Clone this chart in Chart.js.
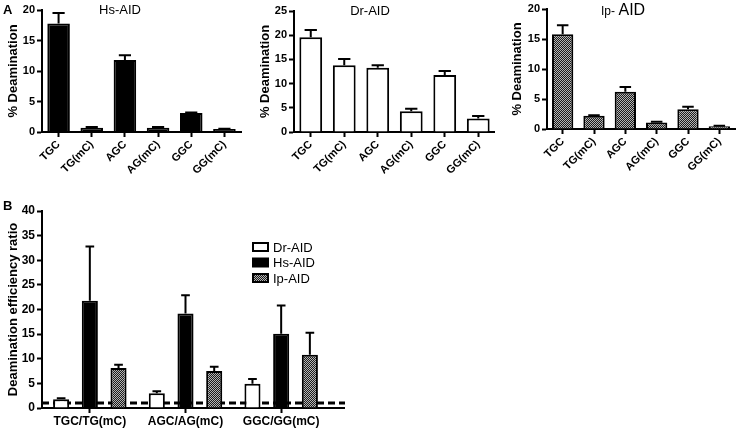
<!DOCTYPE html>
<html>
<head>
<meta charset="utf-8">
<title>AID deamination</title>
<script src="https://cdn.jsdelivr.net/npm/chart.js"></script>
<style>
  body { margin: 0; background: #fff; font-family: "Liberation Sans", Arial, sans-serif; }
  #wrap { position: relative; width: 745px; height: 431px; overflow: hidden; }
  canvas { position: absolute; }
  .lbl { position: absolute; font-weight: bold; font-size: 13px; color: #000; }
  .ttl { position: absolute; font-size: 13px; color: #000; transform: translateX(-50%); white-space: nowrap; }
</style>
</head>
<body>
<div id="wrap">
  <canvas id="hs" width="245" height="178" style="left:0;top:0"></canvas>
  <canvas id="dr" width="250" height="178" style="left:245px;top:0"></canvas>
  <canvas id="ip" width="250" height="178" style="left:495px;top:0"></canvas>
  <canvas id="ratio" width="360" height="236" style="left:0;top:195px"></canvas>
  <div class="lbl" style="left:3px;top:2px">A</div>
  <div class="lbl" style="left:3px;top:198px">B</div>
  <div class="ttl" style="left:120px;top:2px">Hs-AID</div>
  <div class="ttl" style="left:370px;top:3px">Dr-AID</div>
  <div class="ttl" style="left:623px;top:1px"><span style="font-size:12px">Ip-</span><span style="font-size:16px"> AID</span></div>
</div>
<script>
// panel A: % deamination per substrate
const seqLabels = ['TGC', 'TG(mC)', 'AGC', 'AG(mC)', 'GGC', 'GG(mC)'];
const hsValues = [17.8, 0.7, 11.8, 0.7, 3.1, 0.5];
const hsErrors = [1.7, 0.1, 0.8, 0.1, 0.1, 0.05];
const drValues = [19.6, 13.8, 13.3, 4.3, 11.8, 2.8];
const drErrors = [1.5, 1.3, 0.5, 0.5, 0.8, 0.5];
const ipValues = [15.8, 2.2, 6.2, 1.1, 3.3, 0.45];
const ipErrors = [1.5, 0.1, 0.8, 0.1, 0.4, 0.1];

// panel B: efficiency ratio
const ratioLabels = ['TGC/TG(mC)', 'AGC/AG(mC)', 'GGC/GG(mC)'];
const ratioDr = [1.8, 3.0, 4.9];
const ratioDrErr = [0.2, 0.4, 1.0];
const ratioHs = [21.8, 19.2, 15.1];
const ratioHsErr = [11.0, 3.7, 5.7];
const ratioIp = [8.1, 7.5, 10.8];
const ratioIpErr = [0.7, 0.9, 4.5];

const FONT = '"Liberation Sans", Arial, sans-serif';

// grey checker fill used for Ip-AID
function checker() {
  const c = document.createElement('canvas');
  c.width = 2; c.height = 2;
  const g = c.getContext('2d');
  g.fillStyle = '#b4b4b4'; g.fillRect(0, 0, 2, 2);
  g.fillStyle = '#1c1c1c'; g.fillRect(0, 0, 1, 1); g.fillRect(1, 1, 1, 1);
  return g.createPattern(c, 'repeat');
}
const ipFill = checker();

// upper-only error bars, Prism style
const errorBars = {
  id: 'errorBars',
  afterDatasetsDraw(chart) {
    const ctx = chart.ctx;
    const yScale = chart.scales.y;
    chart.data.datasets.forEach((ds, i) => {
      if (!ds.errors) return;
      chart.getDatasetMeta(i).data.forEach((bar, j) => {
        const top = yScale.getPixelForValue(ds.data[j] + ds.errors[j]);
        const half = bar.width * 0.27;
        ctx.save();
        ctx.strokeStyle = '#000';
        ctx.lineWidth = 2;
        ctx.beginPath();
        ctx.moveTo(bar.x, bar.y);
        ctx.lineTo(bar.x, top);
        ctx.moveTo(bar.x - half, top);
        ctx.lineTo(bar.x + half, top);
        ctx.stroke();
        ctx.restore();
      });
    });
  }
};

// dashed reference line at ratio = 1, behind the bars
const refLine = {
  id: 'refLine',
  beforeDatasetsDraw(chart, args, opts) {
    const ctx = chart.ctx;
    const y = chart.scales.y.getPixelForValue(opts.value);
    ctx.save();
    ctx.strokeStyle = '#000';
    ctx.lineWidth = 3;
    ctx.setLineDash([7, 4]);
    ctx.beginPath();
    ctx.moveTo(chart.chartArea.left, y);
    ctx.lineTo(opts.right, y);
    ctx.stroke();
    ctx.restore();
  }
};

// x axis line runs on past the last group
const axisTail = {
  id: 'axisTail',
  afterDraw(chart, args, opts) {
    const ctx = chart.ctx;
    const a = chart.chartArea;
    ctx.save();
    ctx.strokeStyle = '#000';
    ctx.lineWidth = 2;
    ctx.beginPath();
    ctx.moveTo(a.right - 1, a.bottom);
    ctx.lineTo(opts.right, a.bottom);
    ctx.stroke();
    ctx.restore();
  }
};

const boxLegend = {
  id: 'boxLegend',
  afterDraw(chart, args, opts) {
    const ctx = chart.ctx;
    chart.data.datasets.forEach((ds, i) => {
      const y = opts.y + i * opts.gap;
      ctx.save();
      ctx.fillStyle = ds.backgroundColor;
      ctx.fillRect(opts.x, y - 4, 15, 8);
      ctx.strokeStyle = '#000';
      ctx.lineWidth = 2;
      ctx.strokeRect(opts.x, y - 4, 15, 8);
      ctx.fillStyle = '#000';
      ctx.font = '13px ' + FONT;
      ctx.textBaseline = 'middle';
      ctx.fillText(ds.label, opts.x + 20, y + 1);
      ctx.restore();
    });
  }
};

function axisStyle() {
  return {
    grid: { offset: false, drawOnChartArea: false, drawTicks: true, tickLength: 5, tickWidth: 2, tickColor: '#000' },
    border: { color: '#000', width: 2 }
  };
}

function topChart(id, values, errors, fill, yMax, yWidth, pad) {
  return new Chart(document.getElementById(id), {
    type: 'bar',
    data: {
      labels: seqLabels,
      datasets: [{
        data: values,
        errors: errors,
        backgroundColor: fill,
        borderColor: '#000',
        borderWidth: 2,
        barPercentage: 0.68,
        categoryPercentage: 1
      }]
    },
    options: {
      responsive: false,
      animation: false,
      layout: { padding: pad },
      plugins: { legend: { display: false }, tooltip: { enabled: false } },
      scales: {
        x: Object.assign(axisStyle(), {
          ticks: { color: '#000', font: { family: FONT, size: 11, weight: 'bold' }, maxRotation: 45, minRotation: 45, padding: 1 },
          afterFit(s) { s.height = pad.xh; }
        }),
        y: Object.assign(axisStyle(), {
          min: 0, max: yMax,
          ticks: { stepSize: 5, color: '#000', font: { family: FONT, size: 11, weight: 'bold' }, padding: 2 },
          title: { display: true, text: '% Deamination', color: '#000', font: { family: FONT, size: 13, weight: 'bold' }, padding: 0 },
          afterFit(s) { s.width = yWidth; }
        })
      }
    },
    plugins: [errorBars]
  });
}

topChart('hs', hsValues, hsErrors, '#000', 20, 36, { top: 10, right: 4, left: 6, bottom: 0, xh: 46 });
topChart('dr', drValues, drErrors, '#fff', 25, 36, { top: 11, right: 0, left: 13, bottom: 0, xh: 46 });
topChart('ip', ipValues, ipErrors, ipFill, 20, 37, { top: 9, right: 10, left: 15, bottom: 0, xh: 49 });

function ratioSet(label, values, errors, fill) {
  return {
    label: label,
    data: values,
    errors: errors,
    backgroundColor: fill,
    borderColor: '#000',
    borderWidth: 2,
    barPercentage: 0.56,
    categoryPercentage: 0.9
  };
}

new Chart(document.getElementById('ratio'), {
  type: 'bar',
  data: {
    labels: ratioLabels,
    datasets: [
      ratioSet('Dr-AID', ratioDr, ratioDrErr, '#fff'),
      ratioSet('Hs-AID', ratioHs, ratioHsErr, '#000'),
      ratioSet('Ip-AID', ratioIp, ratioIpErr, ipFill)
    ]
  },
  options: {
    responsive: false,
    animation: false,
    layout: { padding: { top: 16, right: 31, left: 6, bottom: 0 } },
    plugins: {
      legend: { display: false },
      tooltip: { enabled: false },
      refLine: { value: 1, right: 345 },
      axisTail: { right: 345 },
      boxLegend: { x: 253, y: 52, gap: 15.5 }
    },
    scales: {
      x: Object.assign(axisStyle(), {
        ticks: { color: '#000', font: { family: FONT, size: 12, weight: 'bold' }, maxRotation: 0, padding: 1 },
        afterFit(s) { s.height = 23; }
      }),
      y: Object.assign(axisStyle(), {
        min: 0, max: 40,
        ticks: { stepSize: 5, color: '#000', font: { family: FONT, size: 12, weight: 'bold' }, padding: 2 },
        title: { display: true, text: 'Deamination efficiency ratio', color: '#000', font: { family: FONT, size: 13, weight: 'bold' }, padding: 0 },
        afterFit(s) { s.width = 36; }
      })
    }
  },
  plugins: [refLine, errorBars, axisTail, boxLegend]
});
</script>
</body>
</html>
